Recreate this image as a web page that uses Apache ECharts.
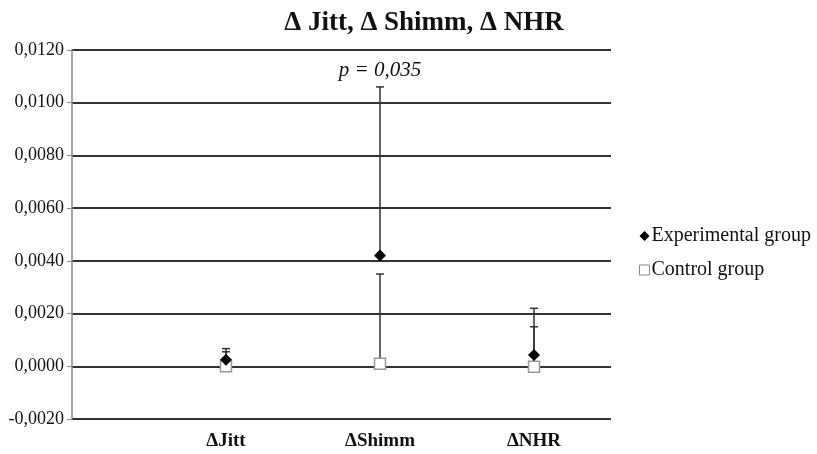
<!DOCTYPE html>
<html>
<head>
<meta charset="utf-8">
<script src="https://cdn.jsdelivr.net/npm/echarts@6/dist/echarts.min.js"></script>
<style>
    html, body { margin: 0; padding: 0; background: #fff; }
    #chart { width: 817px; height: 454px; }
</style>
</head>
<body>
<div id="chart"></div>
<script>
    // categories sit at x = 1, 2, 3
    let categories = ["ΔJitt", "ΔShimm", "ΔNHR"];
    let expValues = [0.00025, 0.0042, 0.00043];
    let expUpper = [0.00067, 0.0106, 0.0022];
    let ctrlValues = [0.0, 0.0001, -0.00002];
    let ctrlUpper = [0.00055, 0.0035, 0.0015];
    let yTicks = [-0.002, 0.012, 0.002]; // min, max, interval

    let chart = echarts.init(document.getElementById("chart"));
    let serif = "'Liberation Serif', 'Times New Roman', serif";

    // error bars: [x, value, upper]
    let expBars = expValues.map((v, i) => [i + 1, v, expUpper[i]]);
    let ctrlBars = ctrlValues.map((v, i) => [i + 1, v, ctrlUpper[i]]);

    function renderBar(params, api) {
        let base = api.coord([api.value(0), api.value(1)]);
        let top = api.coord([api.value(0), api.value(2)]);
        let style = { stroke: "#333", lineWidth: 1.5 };
        return {
            type: "group",
            children: [
                { type: "line", shape: { x1: base[0], y1: base[1], x2: top[0], y2: top[1] }, style: style },
                { type: "line", shape: { x1: top[0] - 4, y1: top[1], x2: top[0] + 4, y2: top[1] }, style: style }
            ]
        };
    }

    let option = {
        animation: false,
        title: {
            text: "Δ Jitt, Δ Shimm, Δ NHR",
            left: 419,
            textAlign: "center",
            top: 5,
            textStyle: { fontFamily: serif, fontSize: 27, fontWeight: "bold", color: "#111" }
        },
        legend: {
            orient: "vertical",
            left: 634,
            top: 221,
            itemGap: 14,
            itemWidth: 10,
            itemHeight: 10,
            textStyle: { fontFamily: serif, fontSize: 20, color: "#111", padding: [0, 0, 0, -3] },
            data: [
                { name: "Experimental group", icon: "diamond", itemStyle: { color: "#000" } },
                { name: "Control group", icon: "rect", itemStyle: { color: "#fff", borderColor: "#888", borderWidth: 1 } }
            ]
        },
        grid: { left: 72, right: 206, top: 50, bottom: 35 },
        xAxis: {
            type: "value",
            min: 0,
            max: 3.5,
            interval: 1,
            axisLine: { show: false },
            axisTick: { show: false },
            splitLine: { show: false },
            axisLabel: {
                margin: 13,
                showMaxLabel: false,
                fontFamily: serif,
                fontSize: 19,
                fontWeight: "bold",
                color: "#111",
                formatter: value => categories[value - 1] || ""
            }
        },
        yAxis: {
            type: "value",
            min: yTicks[0],
            max: yTicks[1],
            interval: yTicks[2],
            axisLine: { show: true, lineStyle: { color: "#888", width: 1.5 } },
            axisTick: { show: true, length: 5, lineStyle: { color: "#888" } },
            splitLine: { lineStyle: { color: "#333", width: 1.8 } },
            axisLabel: {
                margin: 8,
                fontFamily: serif,
                fontSize: 18,
                color: "#111",
                formatter: value => value.toFixed(4).replace(".", ",")
            }
        },
        series: [
            {
                type: "custom",
                name: "expBars",
                renderItem: renderBar,
                data: expBars,
                z: 3
            },
            {
                type: "custom",
                name: "ctrlBars",
                renderItem: renderBar,
                data: ctrlBars,
                z: 3
            },
            {
                type: "scatter",
                name: "Control group",
                symbol: "rect",
                symbolSize: 11,
                itemStyle: { color: "#fff", borderColor: "#999", borderWidth: 1.5, opacity: 1 },
                data: ctrlValues.map((v, i) => [i + 1, v]),
                z: 4
            },
            {
                type: "scatter",
                name: "Experimental group",
                symbol: "diamond",
                symbolSize: 12,
                itemStyle: { color: "#000", opacity: 1 },
                data: expValues.map((v, i) => [i + 1, v]),
                z: 5,
                markPoint: {
                    symbol: "circle",
                    symbolSize: 0,
                    data: [{ coord: [2, expUpper[1]] }],
                    label: {
                        show: true,
                        position: "top",
                        distance: 6,
                        formatter: "p = 0,035",
                        fontFamily: serif,
                        fontStyle: "italic",
                        fontSize: 21,
                        color: "#111"
                    }
                }
            }
        ]
    };

    chart.setOption(option);
</script>
</body>
</html>
